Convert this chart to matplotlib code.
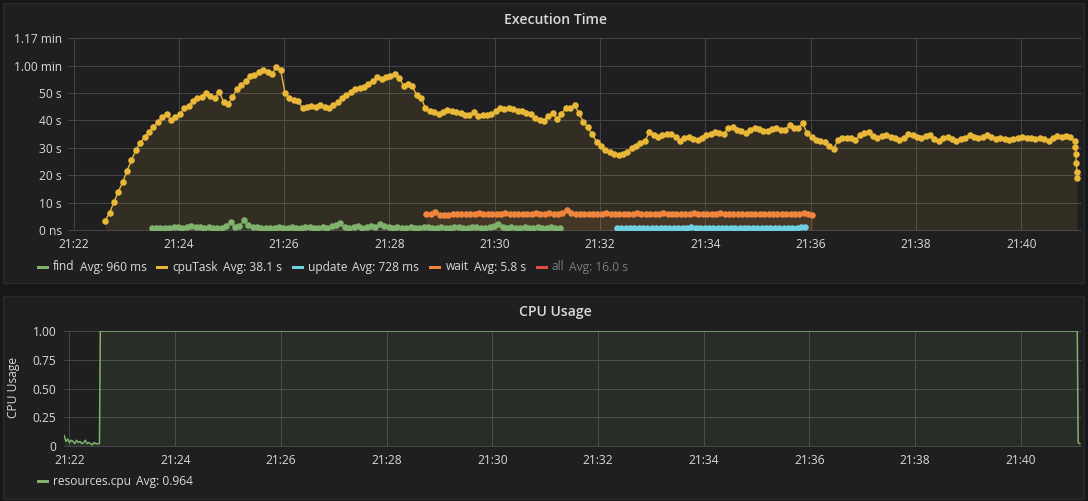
import matplotlib
matplotlib.use("Agg")
import matplotlib.pyplot as plt
import matplotlib.dates as mdates
from matplotlib.patches import Rectangle
from datetime import datetime, timedelta

# ---------------- data ----------------
BASE = datetime(2018, 1, 1, 21, 22, 0)   # 21:22:00
range_start_sec = -6
range_end_sec = 1148

cpu_task_start = 36
cpu_task_step = 5
cpu_task_vals = [
    3.3, 6.3, 10.2, 14.0, 17.5, 21.7, 25.5, 29.2, 31.8, 34.0,
    35.6, 37.5, 39.3, 41.2, 42.3, 40.1, 41.4, 42.3, 44.4, 45.4,
    47.0, 48.2, 48.7, 50.1, 49.0, 48.3, 50.5, 46.8, 45.9, 48.5,
    51.5, 52.8, 54.5, 56.2, 56.6, 57.5, 58.4, 57.8, 56.9, 59.6,
    58.4, 50.0, 48.3, 47.6, 47.0, 44.6, 45.0, 45.2, 45.0, 45.6,
    44.8, 44.4, 45.6, 46.6, 48.2, 49.2, 50.2, 51.3, 51.8, 52.3,
    53.4, 54.3, 56.0, 55.1, 55.8, 56.3, 56.9, 55.6, 52.7, 53.3,
    52.5, 49.3, 48.3, 44.4, 43.5, 43.0, 42.2, 43.0, 43.8, 43.3,
    43.0, 42.6, 42.0, 41.8, 43.2, 41.5, 42.0, 42.1, 42.2, 43.5,
    44.6, 44.3, 44.4, 44.2, 43.6, 43.4, 42.6, 42.2, 41.0, 40.3,
    39.9, 41.5, 42.6, 40.5, 42.5, 44.4, 44.6, 45.5, 42.6, 39.5,
    37.5, 34.9, 32.3, 30.5, 29.2, 28.4, 27.8, 27.5, 27.6, 28.6,
    29.8, 30.8, 31.6, 32.4, 35.6, 34.5, 34.1, 34.7, 35.2, 35.1,
    33.8, 32.6, 33.5, 34.1, 33.4, 32.8, 33.6, 34.7, 35.0, 35.6,
    35.3, 35.2, 37.2, 37.5, 36.5, 36.1, 35.5, 36.4, 37.3, 36.9,
    36.3, 36.1, 36.7, 37.3, 36.4, 36.6, 38.3, 37.2, 37.3, 38.9,
    35.3, 33.8, 33.0, 32.5, 32.0, 30.8, 29.6, 33.0, 33.5, 33.6,
    33.5, 32.9, 34.5, 35.3, 35.6, 34.4, 33.7, 34.2, 34.7, 34.0,
    33.5, 32.8, 33.6, 34.9, 34.5, 33.9, 33.5, 34.2, 34.7, 33.4,
    32.6, 33.7, 34.1, 33.4, 32.5, 33.2, 33.7, 34.7, 34.1, 33.5,
    34.0, 34.7, 33.8, 33.2, 33.5, 33.4, 32.8, 33.2, 33.7, 33.9,
    33.6, 33.5, 33.3, 33.7, 33.1, 32.5, 33.6, 34.4, 34.1, 34.4,
    33.8, 32.5,
]
cpu_task_tail_sec = [1141.6, 1142.1, 1142.6, 1143.1, 1143.6]
cpu_task_tail_vals = [30.4, 27.6, 24.3, 21.3, 19.1]

find_start = 89
find_step = 5
find_vals = [
    0.8, 0.7, 0.8, 0.9, 0.7, 1.1, 1.0, 0.8, 1.2, 1.3,
    1.1, 1.2, 0.9, 1.0, 0.8, 0.7, 0.9, 1.5, 3.0, 1.1,
    1.3, 3.6, 1.8, 1.2, 1.0, 0.8, 0.9, 0.7, 0.8, 1.0,
    0.9, 0.8, 1.1, 0.7, 0.8, 1.2, 1.0, 0.8, 0.9, 1.1,
    0.9, 1.3, 1.7, 2.4, 1.2, 0.9, 1.0, 1.3, 0.8, 1.1,
    1.4, 1.2, 2.1, 1.3, 1.0, 0.8, 1.1, 0.9, 0.7, 1.0,
    0.9, 0.8, 1.2, 1.0, 0.8, 0.9, 1.1, 0.9, 0.8, 1.0,
    1.2, 0.9, 0.8, 1.1, 1.0, 0.8, 0.9, 1.1, 1.3, 2.2,
    1.2, 0.9, 1.0, 0.8, 0.9, 1.1, 0.8, 0.9, 1.0, 0.7,
    0.9, 1.1, 0.8, 0.9,
]

wait_start = 402
wait_step = 5
wait_vals = [
    5.8, 5.9, 6.7, 5.6, 5.5, 5.6, 5.7, 5.8, 5.9, 6.0,
    5.8, 5.9, 6.1, 6.0, 5.7, 5.9, 6.0, 5.9, 6.2, 6.0,
    5.8, 5.9, 6.0, 5.9, 6.0, 6.1, 5.9, 6.0, 6.3, 6.0,
    5.9, 6.1, 7.3, 6.2, 5.9, 5.8, 6.0, 5.9, 5.7, 5.8,
    5.9, 6.1, 5.8, 5.7, 5.9, 6.0, 5.8, 5.9, 6.2, 5.8,
    5.7, 5.9, 6.0, 5.8, 6.1, 5.9, 5.8, 6.0, 5.9, 5.7,
    5.9, 6.2, 5.9, 5.8, 6.0, 5.9, 5.8, 6.1, 5.9, 5.7,
    5.8, 6.0, 5.9, 5.8, 5.9, 6.0, 5.8, 5.9, 5.9, 5.8,
    6.0, 5.9, 5.8, 5.9, 6.0, 5.9, 6.1, 5.8, 5.6,
]

update_start = 619
update_step = 5
update_vals = [
    0.8, 0.7, 0.6, 0.7, 0.9, 0.8, 0.6, 0.7, 0.8, 0.7,
    0.6, 0.8, 0.9, 0.7, 0.6, 0.7, 0.8, 1.0, 0.7, 0.6,
    0.7, 0.8, 0.7, 0.6, 0.9, 0.8, 0.7, 0.6, 0.7, 0.8,
    0.7, 0.9, 0.7, 0.6, 0.7, 0.8, 0.7, 0.6, 0.8, 0.9,
    0.7, 0.8, 1.0, 1.2,
]

cpu_sec = [-6, -4, -2, 0, 2, 4, 6, 8, 10, 12, 14, 16, 18, 20, 22, 24, 26, 28, 30, 32, 34,
           35, 1144, 1145, 1147]
cpu_vals = [0.09, 0.04, 0.06, 0.03, 0.05, 0.04, 0.02, 0.05, 0.03, 0.04, 0.02, 0.03, 0.05,
            0.02, 0.03, 0.02, 0.01, 0.03, 0.02, 0.02, 0.02,
            1.0, 1.0, 0.03, 0.02]

top_yticks = [0, 10, 20, 30, 40, 50, 60, 70.2]
top_yticklabels = ["0 ns", "10 s", "20 s", "30 s", "40 s", "50 s", "1.00 min", "1.17 min"]
bot_yticks = [0, 0.25, 0.5, 0.75, 1.0]
bot_yticklabels = ["0", "0.25", "0.50", "0.75", "1.00"]

legend_top = [("find", "Avg: 960 ms", "#7EB26D", False),
              ("cpuTask", "Avg: 38.1 s", "#EAB839", False),
              ("update", "Avg: 728 ms", "#6ED0E0", False),
              ("wait", "Avg: 5.8 s", "#EF843C", False),
              ("all", "Avg: 16.0 s", "#E24D42", True)]
legend_bot = [("resources.cpu", "Avg: 0.964", "#7EB26D", False)]

# ---------------- style ----------------
W, H, DPI = 1088, 501, 100
FONT = ["Open Sans", "DejaVu Sans"]
plt.rcParams["font.family"] = FONT
TXT = "#d8d9da"
PANEL = "#1f1f21"
BG = "#161719"
GRID = "#444446"
PX = 72.0 / DPI  # points per pixel


def times(start, step, n):
    return [BASE + timedelta(seconds=start + step * i) for i in range(n)]


def tlist(secs):
    return [BASE + timedelta(seconds=s) for s in secs]


fig = plt.figure(figsize=(W / DPI, H / DPI), dpi=DPI, facecolor=BG)

bg = fig.add_axes([0, 0, 1, 1], zorder=-10)
bg.set_xlim(0, W)
bg.set_ylim(H, 0)
bg.axis("off")
bg.add_patch(Rectangle((3, 3), 1081, 280, facecolor=PANEL, edgecolor="#2a2a2c", lw=1))
bg.add_patch(Rectangle((3, 296), 1081, 203, facecolor=PANEL, edgecolor="#2a2a2c", lw=1))

bg.text(555, 19.5, "Execution Time", color=TXT, fontsize=14 * PX, fontweight="semibold",
        ha="center", va="center")
bg.text(555, 312, "CPU Usage", color=TXT, fontsize=14 * PX, fontweight="semibold",
        ha="center", va="center")
bg.text(14, 388, "CPU Usage", color=TXT, fontsize=12 * PX, rotation=90,
        ha="center", va="center")


def ax_at(left, top, right, bottom):
    return fig.add_axes([left / W, 1 - bottom / H, (right - left) / W, (bottom - top) / H])


def style_axes(ax, yticks, ylabels, ymax, ypad):
    ax.set_facecolor("none")
    for s in ax.spines.values():
        s.set_visible(False)
    ax.set_xlim(BASE + timedelta(seconds=range_start_sec), BASE + timedelta(seconds=range_end_sec))
    ax.set_ylim(0, ymax)
    ax.set_yticks(yticks)
    ax.set_yticklabels(ylabels)
    ax.xaxis.set_major_locator(mdates.MinuteLocator(byminute=range(0, 60, 2)))
    ax.xaxis.set_major_formatter(mdates.DateFormatter("%H:%M"))
    ax.tick_params(axis="both", length=0, colors=TXT, labelsize=12 * PX)
    ax.tick_params(axis="y", pad=ypad)
    ax.tick_params(axis="x", pad=6)
    ax.grid(True, color=GRID, lw=1 * PX)
    ax.set_axisbelow(True)
    for gl in ax.get_xgridlines() + ax.get_ygridlines():
        gl.set_clip_on(False)


# ---------------- top panel ----------------
ax1 = ax_at(68.3, 37.7, 1081, 230)
style_axes(ax1, top_yticks, top_yticklabels, 70.2, 4.8)

ct_t = times(cpu_task_start, cpu_task_step, len(cpu_task_vals)) + tlist(cpu_task_tail_sec)
ct_v = cpu_task_vals + cpu_task_tail_vals
series = [
    (times(find_start, find_step, len(find_vals)), find_vals, "#7EB26D"),
    (ct_t, ct_v, "#EAB839"),
    (times(update_start, update_step, len(update_vals)), update_vals, "#6ED0E0"),
    (times(wait_start, wait_step, len(wait_vals)), wait_vals, "#EF843C"),
]
for t, v, c in series:
    ax1.fill_between(t, 0, v, color=c, alpha=0.1, lw=0, zorder=1)
for i, (t, v, c) in enumerate(series):
    ax1.plot(t, v, color=c, lw=1.0, marker="o", markersize=4.7, markeredgewidth=0,
             zorder=3 + i)

# ---------------- bottom panel ----------------
ax2 = ax_at(64.2, 331, 1080.8, 446)
style_axes(ax2, bot_yticks, bot_yticklabels, 1.0, 5.5)
ct = tlist(cpu_sec)
ax2.fill_between(ct, 0, cpu_vals, color="#7EB26D", alpha=0.1, lw=0, zorder=1)
ax2.plot(ct, cpu_vals, color="#7EB26D", lw=1.1, zorder=3)

# ---------------- legends ----------------
fig.canvas.draw()
rend = fig.canvas.get_renderer()


def text_width(t):
    return t.get_window_extent(rend).width


def draw_legend(items, x, y):
    for name, avg, col, hidden in items:
        bg.add_patch(Rectangle((x, y - 1.5), 12, 3.5, facecolor=col, edgecolor="none"))
        x += 16
        tc = "#7b7b7e" if hidden else TXT
        t = bg.text(x, y, name, color=tc, fontsize=12 * PX, ha="left", va="center")
        x += text_width(t) + 5
        t2 = bg.text(x, y, avg, color=tc, fontsize=12 * PX, ha="left", va="center")
        x += text_width(t2) + 10


draw_legend(legend_top, 37, 267)
draw_legend(legend_bot, 37, 481)

fig.savefig("out.png", dpi=DPI, facecolor=BG)
